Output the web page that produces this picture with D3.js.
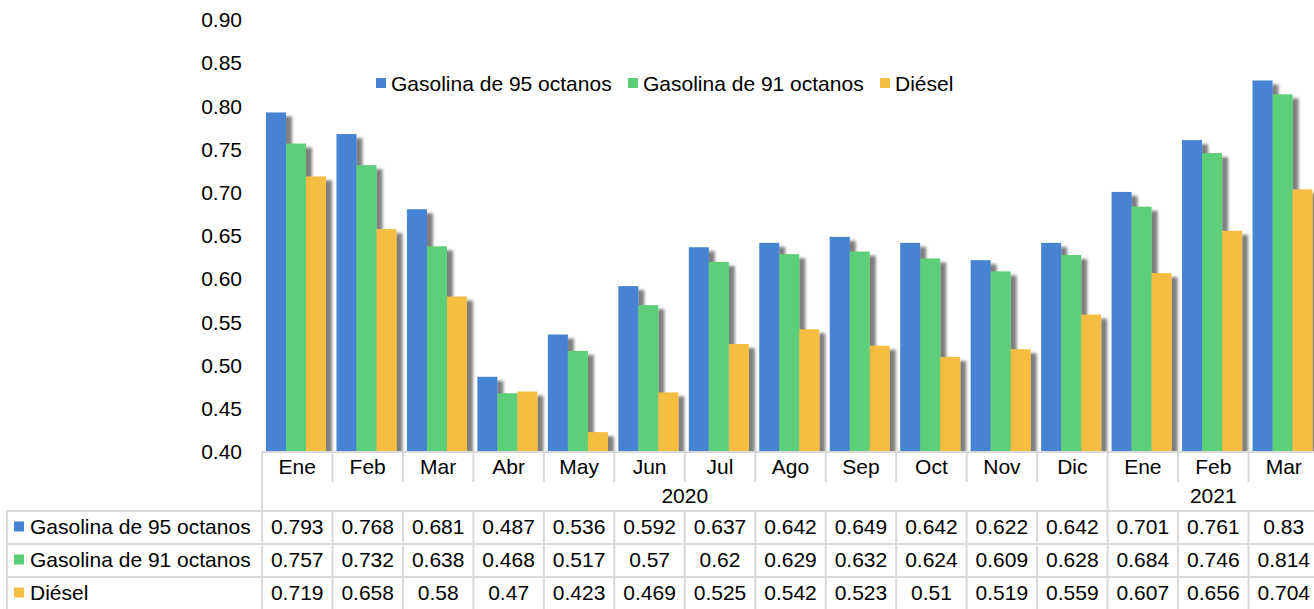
<!DOCTYPE html>
<html>
<meta charset="UTF-8">
<head>
<style>
body { margin: 0; background: white; }
text { font-family: "Liberation Sans", Arial, sans-serif; fill: #000; }
</style>
</head>
<body>
<script src="https://d3js.org/d3.v7.min.js"></script>
<script>

// data
var months = ['Ene', 'Feb', 'Mar', 'Abr', 'May', 'Jun', 'Jul', 'Ago', 'Sep', 'Oct', 'Nov', 'Dic', 'Ene', 'Feb', 'Mar']
var years = [{label: '2020', from: 0, to: 11}, {label: '2021', from: 12, to: 14}]
var seriesNames = ['Gasolina de 95 octanos', 'Gasolina de 91 octanos', 'Diésel']
var g95 = [0.793, 0.768, 0.681, 0.487, 0.536, 0.592, 0.637, 0.642, 0.649, 0.642, 0.622, 0.642, 0.701, 0.761, 0.83]
var g91 = [0.757, 0.732, 0.638, 0.468, 0.517, 0.57, 0.62, 0.629, 0.632, 0.624, 0.609, 0.628, 0.684, 0.746, 0.814]
var diesel = [0.719, 0.658, 0.58, 0.47, 0.423, 0.469, 0.525, 0.542, 0.523, 0.51, 0.519, 0.559, 0.607, 0.656, 0.704]
var yTicks = [0.40, 0.45, 0.50, 0.55, 0.60, 0.65, 0.70, 0.75, 0.80, 0.85, 0.90]

var seriesValues = [g95, g91, diesel]
var colors = ['#4683d3', '#5bcf78', '#f5be40']

// canvas
var svgWidth = 1314
    svgHeight = 609
    plotLeft = 262
    plotRight = 1319
    plotTop = 20
    plotBottom = 452
    gridColor = '#d9d9d9'

var svg = d3.select('body').append('svg')
    .attr('width', svgWidth)
    .attr('height', svgHeight)

var defs = svg.append('defs')
defs.append('filter').attr('id', 'shadow')
    .attr('x', '-20%').attr('y', '-5%').attr('width', '170%').attr('height', '120%')
  .append('feDropShadow')
    .attr('dx', 6).attr('dy', 4)
    .attr('stdDeviation', 1.6)
    .attr('flood-color', '#000')
    .attr('flood-opacity', 0.5)
defs.append('clipPath').attr('id', 'plotClip')
  .append('rect')
    .attr('x', 0).attr('y', 0)
    .attr('width', svgWidth).attr('height', plotBottom)

// scales
var xScale = d3.scaleBand()
    .domain(d3.range(months.length))
    .range([plotLeft, plotRight])

var barW = 20
    barOffset = 4

var yScale = d3.scaleLinear()
    .domain([0.40, 0.90])
    .range([plotBottom, plotTop])

// y axis
var yAxis = d3.axisLeft(yScale)
    .tickValues(yTicks)
    .tickSize(0)
    .tickPadding(20)
    .tickFormat(d3.format('.2f'))

var yg = svg.append('g')
    .attr('transform', 'translate(' + plotLeft + ',0)')
    .call(yAxis)
yg.select('.domain').remove()
yg.selectAll('text')
    .attr('font-size', 21)
    .attr('font-family', '"Liberation Sans", Arial, sans-serif')
    .attr('fill', '#000')

// bars
var barsG = svg.append('g').attr('clip-path', 'url(#plotClip)')
seriesValues.forEach(function(vals, s) {
  barsG.append('g')
    .selectAll('rect')
    .data(vals)
    .enter().append('rect')
      .attr('x', (d, i) => xScale(i) + barOffset + s * barW)
      .attr('y', d => yScale(d))
      .attr('width', barW)
      .attr('height', d => plotBottom - yScale(d))
      .attr('fill', colors[s])
      .attr('filter', 'url(#shadow)')
})

// legend
var legendX = [376, 628, 880]
var legend = svg.append('g')
legend.selectAll('rect').data(seriesNames).enter().append('rect')
    .attr('x', (d, i) => legendX[i])
    .attr('y', 78)
    .attr('width', 10).attr('height', 10)
    .attr('fill', (d, i) => colors[i])
legend.selectAll('text').data(seriesNames).enter().append('text')
    .attr('x', (d, i) => legendX[i] + 15)
    .attr('y', 83)
    .attr('dominant-baseline', 'central')
    .attr('font-size', 21)
    .text(d => d)

// data table
var table = svg.append('g')
var rowMonth = [plotBottom, 482]
    rowYear = [482, 511]
    rowH = 33
    rowTops = [511, 544, 577]
    tableLeft = 7
    tableBottom = 612

function line(x1, y1, x2, y2) {
  table.append('line')
    .attr('x1', x1).attr('y1', y1).attr('x2', x2).attr('y2', y2)
    .attr('stroke', gridColor).attr('stroke-width', 2)
}

// horizontal lines
line(plotLeft, plotBottom, svgWidth, plotBottom)
rowTops.forEach(function(t) { line(tableLeft, t, svgWidth, t) })

// vertical lines
line(tableLeft, rowTops[0], tableLeft, tableBottom)
line(plotLeft, plotBottom, plotLeft, tableBottom)
d3.range(1, months.length).forEach(function(i) {
  var x = xScale(i)
  var isYearBreak = years.some(y => y.from === i)
  if (isYearBreak) {
    line(x, plotBottom, x, tableBottom)
  } else {
    line(x, plotBottom, x, rowMonth[1])
    line(x, rowTops[0], x, tableBottom)
  }
})

// month labels
table.selectAll('.month').data(months).enter().append('text')
    .attr('class', 'month')
    .attr('x', (d, i) => xScale(i) + xScale.bandwidth() / 2)
    .attr('y', (rowMonth[0] + rowMonth[1]) / 2 - 1)
    .attr('text-anchor', 'middle')
    .attr('dominant-baseline', 'central')
    .attr('font-size', 21)
    .text(d => d)

// year labels
table.selectAll('.year').data(years).enter().append('text')
    .attr('class', 'year')
    .attr('x', d => (xScale(d.from) + xScale(d.to) + xScale.bandwidth()) / 2)
    .attr('y', (rowYear[0] + rowYear[1]) / 2 - 1)
    .attr('text-anchor', 'middle')
    .attr('dominant-baseline', 'central')
    .attr('font-size', 21)
    .text(d => d.label)

// series rows
seriesValues.forEach(function(vals, s) {
  var cy = rowTops[s] + rowH / 2 - 1
  table.append('rect')
    .attr('x', 14).attr('y', cy - 5)
    .attr('width', 10).attr('height', 10)
    .attr('fill', colors[s])
  table.append('text')
    .attr('x', 30).attr('y', cy)
    .attr('dominant-baseline', 'central')
    .attr('font-size', 21)
    .text(seriesNames[s])
  table.append('g').selectAll('text').data(vals).enter().append('text')
    .attr('x', (d, i) => xScale(i) + xScale.bandwidth() / 2)
    .attr('y', cy)
    .attr('text-anchor', 'middle')
    .attr('dominant-baseline', 'central')
    .attr('font-size', 21)
    .text(d => d)
})

</script>
</body>
</html>
